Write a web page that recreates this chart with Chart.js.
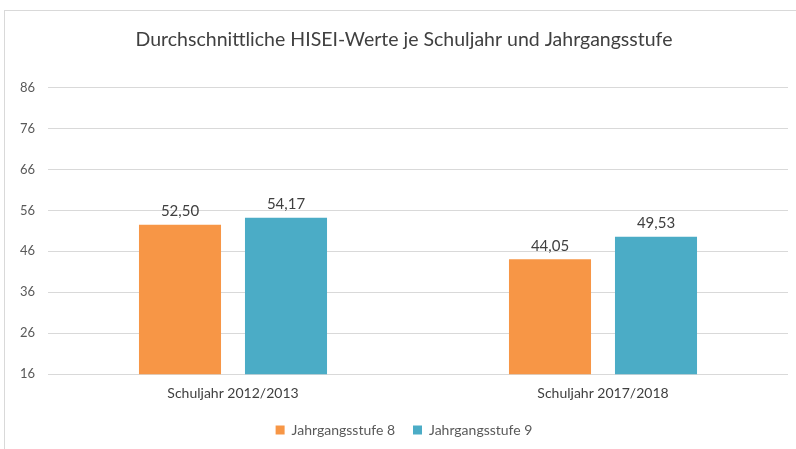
<!DOCTYPE html>
<html>
<head>
<meta charset="utf-8">
<script src="https://cdn.jsdelivr.net/npm/chart.js@4.4.0/dist/chart.umd.min.js"></script>
<style>
  html, body { margin: 0; padding: 0; background: #fff; }
  #frame { position: absolute; left: 4px; top: 10px; width: 800px; height: 450px; border: 1px solid #d9d9d9; }
  #wrap { position: absolute; left: 0; top: 0; width: 796px; height: 449px; }
</style>
</head>
<body>
<div id="frame"></div>
<div id="wrap"><canvas id="chart"></canvas></div>
<script>
const categories = ['Schuljahr 2012/2013', 'Schuljahr 2017/2018'];
const stufe8 = [52.50, 44.05];
const stufe9 = [54.17, 49.53];
const yTicks = [16, 26, 36, 46, 56, 66, 76, 86];

const FONT = 'Lato, "Open Sans", sans-serif';

// draws the value above each bar, German decimal comma
const valueLabels = {
  id: 'valueLabels',
  afterDatasetsDraw(chart) {
    const ctx = chart.ctx;
    ctx.save();
    ctx.font = '15px ' + FONT;
    ctx.fillStyle = '#404040';
    ctx.textAlign = 'center';
    ctx.textBaseline = 'bottom';
    chart.data.datasets.forEach((ds, i) => {
      chart.getDatasetMeta(i).data.forEach((bar, j) => {
        ctx.fillText(ds.data[j].toFixed(2).replace('.', ','), bar.x, bar.y - 6);
      });
    });
    ctx.restore();
  },
};

new Chart(document.getElementById('chart'), {
  type: 'bar',
  data: {
    labels: categories,
    datasets: [
      { label: 'Jahrgangsstufe 8', data: stufe8, backgroundColor: '#f79646' },
      { label: 'Jahrgangsstufe 9', data: stufe9, backgroundColor: '#4bacc6' },
    ],
  },
  options: {
    responsive: true,
    maintainAspectRatio: false,
    animation: false,
    categoryPercentage: 0.573,
    barPercentage: 0.774,
    layout: { padding: { left: 20, right: 8, top: 0, bottom: 2 } },
    plugins: {
      title: {
        display: true,
        text: 'Durchschnittliche HISEI-Werte je Schuljahr und Jahrgangsstufe',
        color: '#404040',
        font: { family: FONT, size: 19.5, weight: 'normal' },
        padding: { top: 28, bottom: 36 },
      },
      legend: {
        position: 'bottom',
        labels: {
          color: '#595959',
          font: { family: FONT, size: 14 },
          boxWidth: 9,
          boxHeight: 9,
          padding: 18,
        },
      },
      tooltip: { enabled: false },
    },
    scales: {
      x: {
        grid: { display: false },
        border: { display: false },
        ticks: { color: '#404040', font: { family: FONT, size: 14 }, padding: 3 },
      },
      y: {
        min: 16,
        max: 86,
        afterBuildTicks(scale) {
          scale.ticks = yTicks.map((v) => ({ value: v }));
        },
        afterFit(scale) {
          scale.width = 28;
        },
        grid: { color: '#d9d9d9', drawTicks: false },
        border: { display: false },
        ticks: { color: '#595959', font: { family: FONT, size: 13 }, padding: 13 },
      },
    },
  },
  plugins: [valueLabels],
});
</script>
</body>
</html>
